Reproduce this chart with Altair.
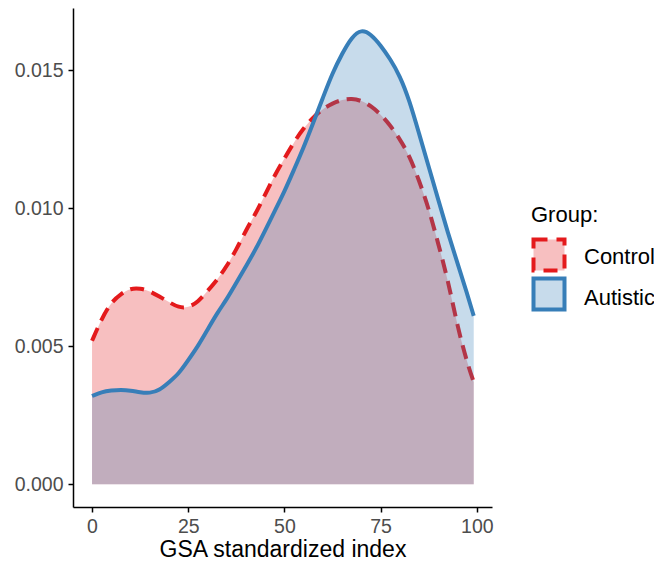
import altair as alt
import pandas as pd

# ---- data ----
x_vals = [0, 2.5, 5, 7.5, 10, 12.5, 15, 17.5, 20, 22.5, 25, 27.5, 30, 32.5, 35, 37.5,
          40, 42.5, 45, 47.5, 50, 52.5, 55, 57.5, 60, 62.5, 65, 67.5, 70, 72.5, 75,
          77.5, 80, 82.5, 85, 87.5, 90, 92.5, 95, 97.5, 99.2]
control_density = [0.0052, 0.0060, 0.0066, 0.0069, 0.0071, 0.0071, 0.0070, 0.0068,
                   0.0066, 0.0064, 0.0064, 0.0066, 0.0070, 0.0074, 0.0079, 0.0085,
                   0.0092, 0.0098, 0.0105, 0.0112, 0.0118, 0.0124, 0.0129, 0.0133,
                   0.0136, 0.0138, 0.01393, 0.01397, 0.0139, 0.0137, 0.0134, 0.0130,
                   0.0125, 0.0119, 0.0110, 0.0100, 0.0087, 0.0074, 0.0057, 0.0044,
                   0.0037]
autistic_density = [0.0032, 0.00335, 0.0034, 0.00342, 0.0034, 0.00333, 0.0033, 0.0034,
                    0.0037, 0.0040, 0.0045, 0.0050, 0.0056, 0.0062, 0.0067, 0.0073,
                    0.0079, 0.0085, 0.0092, 0.0099, 0.0106, 0.0114, 0.0122, 0.0131,
                    0.0140, 0.0149, 0.0156, 0.0162, 0.01648, 0.0163, 0.0159, 0.0154,
                    0.0148, 0.0139, 0.0127, 0.0115, 0.0103, 0.0091, 0.0080, 0.0069,
                    0.0061]
groups = ["Control", "Autistic"]
x_ticks = [0, 25, 50, 75, 100]
y_ticks = [0.000, 0.005, 0.010, 0.015]

df = pd.concat([
    pd.DataFrame({"x": x_vals, "density": control_density, "group": groups[0]}),
    pd.DataFrame({"x": x_vals, "density": autistic_density, "group": groups[1]}),
])

RED = "#E41A1C"
BLUE = "#377EB8"
FONT = "Liberation Sans"
FILL_OP = 0.28
INTERP = "basis"
LW = 4

xs = alt.Scale(domain=[-4.95, 103.95], nice=False, zero=False)
ys = alt.Scale(domain=[-0.00082, 0.01725], nice=False, zero=False)

x_enc = alt.X("x:Q", scale=xs, title="GSA standardized index",
              axis=alt.Axis(values=x_ticks, format="d"))
y_enc = alt.Y("density:Q", scale=ys, title=None,
              axis=alt.Axis(values=y_ticks, format=".3f"))

base = alt.Chart(df)


def area(g, color):
    return base.transform_filter(alt.datum.group == g).mark_area(
        color=color, fillOpacity=FILL_OP, interpolate=INTERP
    ).encode(x=x_enc, y=y_enc, y2=alt.datum(0))


def line(g, color, dash=None):
    kw = dict(color=color, strokeWidth=LW, interpolate=INTERP, strokeCap="butt")
    if dash:
        kw["strokeDash"] = dash
    return base.transform_filter(alt.datum.group == g).mark_line(**kw).encode(
        x=x_enc, y=y_enc)


# ---- manual legend (positions in pixels relative to plot area) ----
LEG_FS = 22
leg_df = pd.DataFrame({"group": groups})
leg = alt.Chart(leg_df)
leg_title = alt.Chart(pd.DataFrame({"t": ["Group:"]})).mark_text(
    align="left", baseline="middle", font=FONT, fontSize=LEG_FS, color="black"
).encode(text="t:N", x=alt.value(458), y=alt.value(207))

sq_c = leg.transform_filter(alt.datum.group == "Control").mark_square(
    size=961, fill=RED, fillOpacity=FILL_OP, stroke=RED, strokeWidth=LW,
    strokeDash=[14, 9]).encode(x=alt.value(476), y=alt.value(247))
sq_a = leg.transform_filter(alt.datum.group == "Autistic").mark_square(
    size=961, fill=BLUE, fillOpacity=FILL_OP, stroke=BLUE, strokeWidth=LW
).encode(x=alt.value(476), y=alt.value(286))
lab_c = leg.transform_filter(alt.datum.group == "Control").mark_text(
    align="left", baseline="middle", font=FONT, fontSize=LEG_FS, color="black"
).encode(text="group:N", x=alt.value(511), y=alt.value(249))
lab_a = leg.transform_filter(alt.datum.group == "Autistic").mark_text(
    align="left", baseline="middle", font=FONT, fontSize=LEG_FS, color="black"
).encode(text="group:N", x=alt.value(511), y=alt.value(290))

chart = alt.layer(
    area("Control", RED), line("Control", RED, [14, 8]),
    area("Autistic", BLUE), line("Autistic", BLUE),
    leg_title, sq_c, sq_a, lab_c, lab_a,
).properties(
    width=419, height=499,
    autosize=alt.AutoSizeParams(type="none"),
    padding={"left": 65, "top": 0, "right": 162, "bottom": 55},
).configure_view(stroke=None).configure_axis(
    grid=False, domainColor="black", domainWidth=1.5, tickColor="black",
    tickWidth=1.5, tickSize=5, labelColor="#4D4D4D", labelFont=FONT,
    labelFontSize=19.5, titleFont=FONT, titleFontSize=23, titleColor="black",
    titleFontWeight="normal", labelPadding=5
).configure_axisX(titlePadding=3)

chart.save("out.html", embed_options={"renderer": "svg", "actions": False})
